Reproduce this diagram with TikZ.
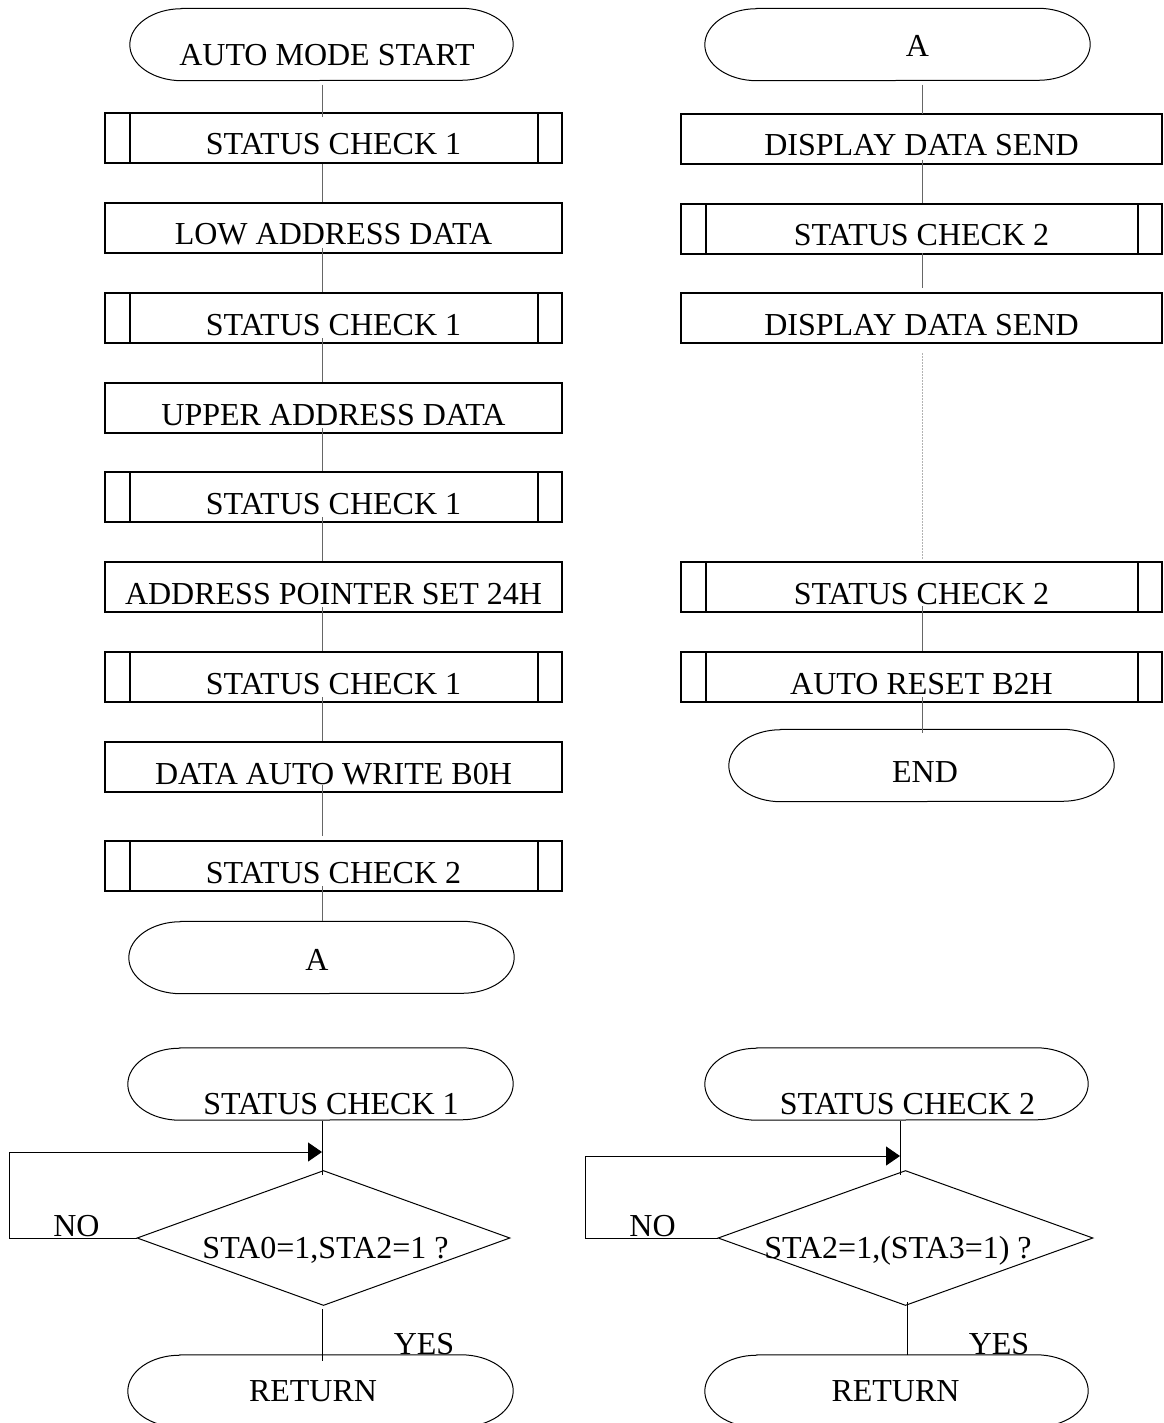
\documentclass[tikz,border=0pt]{standalone}
\usepackage{fontspec}
\setmainfont{Liberation Serif}
\usetikzlibrary{arrows.meta,shapes.geometric,calc}
\newcommand\ftxt{\fontsize{32pt}{36pt}\selectfont}
\newcommand\stadium[1]{\draw[termline] ([xshift=52pt]#1.north west) -- ([xshift=-52pt]#1.north east) arc[start angle=90, end angle=-90, x radius=52pt, y radius=36pt] -- ([xshift=52pt]#1.south west) arc[start angle=270, end angle=90, x radius=52pt, y radius=36pt] -- cycle;}
\begin{document}
\begin{tikzpicture}[x=1pt,y=-1pt,
  conn/.style={draw=black!60, line width=1pt},
  dotconn/.style={draw=black!30, line width=1pt, dash pattern=on 2pt off 1pt},
  flow/.style={draw=black, line width=1pt},
  termline/.style={draw=black, line width=1pt},
  procbox/.style={rectangle, draw=black, line width=2pt, inner sep=0pt, minimum height=50pt, text height=34pt, text depth=0pt, font=\ftxt},
  lbox/.style={procbox, minimum width=457pt},
  rbox/.style={procbox, minimum width=481pt},
  subr/.style={path picture={\draw[line width=2pt] ([xshift=25pt]path picture bounding box.north west) -- ([xshift=25pt]path picture bounding box.south west) ([xshift=-24pt]path picture bounding box.north east) -- ([xshift=-24pt]path picture bounding box.south east);}},
  termbox/.style={rectangle, inner sep=0pt, minimum height=72pt},
  txt/.style={font=\ftxt, inner sep=0pt, anchor=base},
  decision/.style={diamond, draw=black, line width=1pt, inner sep=0pt, aspect=2.76}
]
\useasboundingbox (0,0) rectangle (1163,1423);
\fill[white] (0,0) rectangle (1163,1423);

\coordinate (colL) at (322,0);
\coordinate (colR) at (922,0);
\coordinate (colB) at (900,0);
\coordinate (colB2) at (907,0);

% ---------- left column ----------
\node[termbox, minimum width=383pt] (tS) at (321.5,44.5) {};
\stadium{tS}
\node[txt] (tSt) at (327,66) {AUTO MODE START};
\node[lbox, subr] (b1) at (333.5,138) {STATUS CHECK 1};
\node[lbox] (b2) at (333.5,228) {LOW ADDRESS DATA};
\node[lbox, subr] (b3) at (333.5,318) {STATUS CHECK 1};
\node[lbox] (b4) at (333.5,408) {UPPER ADDRESS DATA};
\node[lbox, subr] (b5) at (333.5,497) {STATUS CHECK 1};
\node[lbox] (b6) at (333.5,587) {ADDRESS POINTER SET 24H};
\node[lbox, subr] (b7) at (333.5,677) {STATUS CHECK 1};
\node[lbox] (b8) at (333.5,767) {DATA AUTO WRITE B0H};
\node[lbox, subr] (b9) at (333.5,866) {STATUS CHECK 2};
\node[termbox, minimum width=385pt] (tAl) at (321.5,957.5) {};
\stadium{tAl}
\node[txt] (tAlt) at (317,970) {A};

% ---------- right column ----------
\node[termbox, minimum width=385pt] (tAr) at (897.5,44.5) {};
\stadium{tAr}
\node[txt] (tArt) at (917.5,57) {A};
\node[rbox] (r1) at (921.5,139) {DISPLAY DATA SEND};
\node[rbox, subr] (r2) at (921.5,229) {STATUS CHECK 2};
\node[rbox] (r3) at (921.5,318) {DISPLAY DATA SEND};
\node[rbox, subr] (r4) at (921.5,587) {STATUS CHECK 2};
\node[rbox, subr] (r5) at (921.5,677) {AUTO RESET B2H};
\node[termbox, minimum width=385pt] (tE) at (921.5,765.5) {};
\stadium{tE}
\node[txt] (tEt) at (925,782) {END};

% ---------- status check 1 ----------
\node[termbox, minimum width=385pt] (tC1) at (320.5,1084) {};
\stadium{tC1}
\node[txt] (tC1t) at (331,1114) {STATUS CHECK 1};
\node[decision, minimum width=373pt, minimum height=135pt] (dL) at (323.5,1238) {};
\node[txt] (dLt) at (325.5,1258) {STA0=1,STA2=1 ?};
\node[termbox, minimum width=385pt] (tR1) at (320.5,1391) {};
\stadium{tR1}
\node[txt] (tR1t) at (313,1401) {RETURN};
\node[txt] (noL) at (76.5,1236) {NO};
\node[txt] (yesL) at (424,1354) {YES};
\coordinate (loopL) at (9,1152);
\coordinate (tipL) at (322,1152);

% ---------- status check 2 ----------
\node[termbox, minimum width=383pt] (tC2) at (896.5,1084) {};
\stadium{tC2}
\node[txt] (tC2t) at (907.5,1114) {STATUS CHECK 2};
\node[decision, minimum width=375pt, minimum height=135pt] (dR) at (905.5,1238) {};
\node[txt] (dRt) at (898,1258) {STA2=1,(STA3=1) ?};
\node[termbox, minimum width=383pt] (tR2) at (896.5,1391) {};
\stadium{tR2}
\node[txt] (tR2t) at (895.5,1401) {RETURN};
\node[txt] (noR) at (652.5,1236) {NO};
\node[txt] (yesR) at (999,1354) {YES};
\coordinate (loopR) at (585,1156);
\coordinate (tipR) at (900,1156);

% ---------- connectors, top part ----------
\draw[conn] ($(tS.south -| colL)+(0,4)$) -- ($(b1.north -| colL)+(0,5)$);
\draw[conn] (b1.south -| colL) -- (b2.north -| colL);
\foreach \a/\b in {b2/b3,b3/b4,b4/b5,b5/b6,b6/b7,b7/b8}
  \draw[conn] ($(\a.south -| colL)+(0,-6)$) -- (\b.north -| colL);
\draw[conn] ($(b8.south -| colL)+(0,-8)$) -- ($(b9.north -| colL)+(0,-4)$);
\draw[conn] ($(b9.south -| colL)+(0,-6)$) -- (tAl.north -| colL);

\draw[conn] ($(tAr.south -| colR)+(0,4)$) -- ($(r1.north -| colR)+(0,1)$);
\draw[conn] ($(r1.south -| colR)+(0,-5)$) -- (r2.north -| colR);
\draw[conn] ($(r2.south -| colR)+(0,-2)$) -- ($(r3.north -| colR)+(0,-4)$);
\draw[dotconn] ($(r3.south -| colR)+(0,9)$) -- ($(r4.north -| colR)+(0,-2)$);
\draw[conn] ($(r4.south -| colR)+(0,-7)$) -- (r5.north -| colR);
\draw[conn] ($(r5.south -| colR)+(0,-6)$) -- ($(tE.north -| colR)+(0,4)$);

% ---------- connectors, status checks ----------
\draw[flow] ($(tC1.south -| colL)+(0,1)$) -- ($(dL.north -| colL)+(0,5)$);
\draw[flow] (dL.west) -- (dL.west -| loopL) -- (loopL);
\draw[flow, -{Triangle[length=14pt,width=19pt]}] (loopL) -- (tipL);
\draw[flow] ($(dL.south -| colL)+(0,3)$) -- ($(tR1.north -| colL)+(0,6)$);

\draw[flow] ($(tC2.south -| colB)+(0,1)$) -- ($(dR.north -| colB)+(0,5)$);
\draw[flow] (dR.west) -- (dR.west -| loopR) -- (loopR);
\draw[flow, -{Triangle[length=14pt,width=19pt]}] (loopR) -- (tipR);
\draw[flow] ($(dR.south -| colB2)+(0,-4)$) -- (tR2.north -| colB2);
\end{tikzpicture}
\end{document}
